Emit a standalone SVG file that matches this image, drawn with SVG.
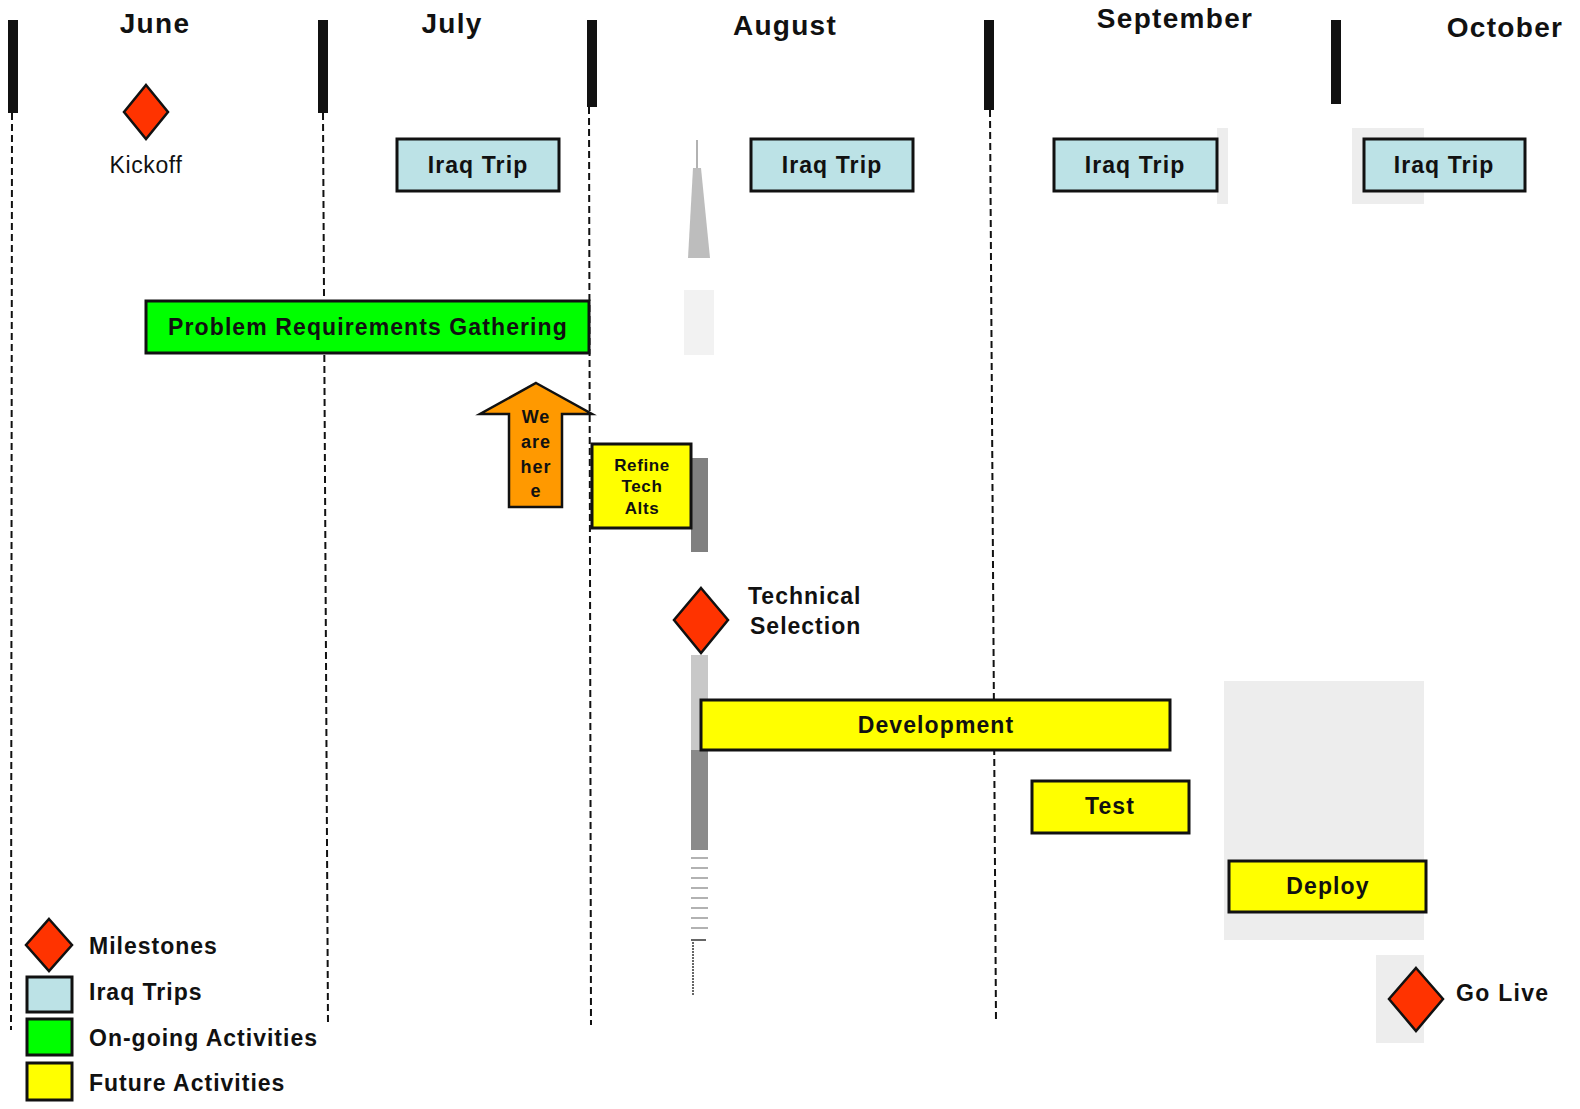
<svg xmlns="http://www.w3.org/2000/svg" width="1580" height="1109" viewBox="0 0 1580 1109">
<style>
text{font-family:"Liberation Sans",Arial,sans-serif;fill:#111}
.month{font-size:28px;font-weight:bold;text-anchor:middle;letter-spacing:1.3px}
.lbl{font-size:23px;font-weight:bold;text-anchor:middle;dominant-baseline:central;letter-spacing:1.1px}
.leg{font-size:23px;font-weight:bold;dominant-baseline:central;letter-spacing:1px}
.bar{fill:#111}
.dash{stroke:#111;stroke-width:2;stroke-dasharray:7,4;fill:none}
.box{stroke:#111;stroke-width:3}
.trip{fill:#BCE2E6}
.fut{fill:#FFFF00}
.ong{fill:#00FF00}
.ms{fill:#FF3300;stroke:#111;stroke-width:2.5}
.ghost{fill:#EDEDED}
</style>
<rect width="1580" height="1109" fill="#fff"/>
<g id="ghosts">
<rect class="ghost" x="1217" y="128" width="11" height="76"/>
<rect class="ghost" x="1352" y="128" width="72" height="76"/>
<rect class="ghost" x="1224" y="681" width="200" height="259"/>
<rect class="ghost" x="1376" y="955" width="48" height="88"/>
</g>
<g id="timeline">
<rect class="bar" x="8" y="20" width="10" height="93"/>
<rect class="bar" x="318" y="20" width="10" height="93"/>
<rect class="bar" x="587" y="20" width="10" height="87"/>
<rect class="bar" x="984" y="20" width="10" height="90"/>
<rect class="bar" x="1331" y="20" width="10" height="84"/>
<text class="month" x="155" y="33">June</text>
<text class="month" x="452" y="33">July</text>
<text class="month" x="785" y="35">August</text>
<text class="month" x="1175" y="28">September</text>
<text class="month" x="1505" y="37">October</text>
</g>
<g id="connectors">
<line class="dash" x1="12" y1="113" x2="11" y2="1030"/>
<line class="dash" x1="323" y1="113" x2="328" y2="1025"/>
<line class="dash" x1="589" y1="107" x2="591" y2="1025"/>
<line class="dash" x1="990" y1="110" x2="996" y2="1022"/>
</g>
<g id="decor">
<line x1="697" y1="140" x2="697" y2="170" stroke="#999" stroke-width="1.5"/>
<polygon points="693,168 701,168 710,258 688,258" fill="#BDBDBD"/>
<rect x="684" y="290" width="30" height="65" fill="#F2F2F2"/>
<rect x="691" y="458" width="17" height="94" fill="#808080"/>
<rect x="691" y="655" width="17" height="95" fill="#C8C8C8"/>
<rect x="691" y="750" width="17" height="100" fill="#8A8A8A"/>
<g stroke="#999" stroke-width="1.5">
<line x1="691" y1="858" x2="708" y2="858"/><line x1="691" y1="868" x2="708" y2="868"/>
<line x1="691" y1="878" x2="708" y2="878"/><line x1="691" y1="888" x2="708" y2="888"/>
<line x1="691" y1="898" x2="708" y2="898"/><line x1="691" y1="908" x2="708" y2="908"/>
<line x1="691" y1="918" x2="708" y2="918"/><line x1="691" y1="928" x2="708" y2="928"/>
</g>
<line x1="691" y1="940" x2="706" y2="940" stroke="#333" stroke-width="1.5"/>
<line x1="693" y1="942" x2="693" y2="996" stroke="#666" stroke-width="2" stroke-dasharray="2,1"/>
</g>
<g id="kickoff">
<polygon class="ms" points="146,85 168,112 146,139 124,112"/>
<text x="146" y="165" font-size="23" letter-spacing="0.6" text-anchor="middle" dominant-baseline="central">Kickoff</text>
</g>
<g id="trip1"><rect class="box trip" x="397" y="139" width="162" height="52"/><text class="lbl" x="478" y="165">Iraq Trip</text></g>
<g id="trip2"><rect class="box trip" x="751" y="139" width="162" height="52"/><text class="lbl" x="832" y="165">Iraq Trip</text></g>
<g id="trip3"><rect class="box trip" x="1054" y="139" width="163" height="52"/><text class="lbl" x="1135" y="165">Iraq Trip</text></g>
<g id="trip4"><rect class="box trip" x="1364" y="139" width="161" height="52"/><text class="lbl" x="1444" y="165">Iraq Trip</text></g>
<g id="prg"><rect class="box ong" x="146" y="301" width="443" height="52"/><text class="lbl" x="368" y="327" font-size="22" letter-spacing="1px">Problem Requirements Gathering</text></g>
<g id="wearehere">
<polygon points="536,383 592,414 562,414 562,507 509,507 509,414 480,414" fill="#FF9900" stroke="#111" stroke-width="2.5"/>
<g font-size="18" font-weight="bold" text-anchor="middle" letter-spacing="1">
<text x="536" y="423">We</text><text x="536" y="448">are</text><text x="536" y="473">her</text><text x="536" y="497">e</text>
</g>
</g>
<g id="refine">
<rect class="box fut" x="592" y="444" width="99" height="84"/>
<g font-size="17" font-weight="bold" text-anchor="middle" letter-spacing="0.6">
<text x="642" y="471">Refine</text><text x="642" y="492">Tech</text><text x="642" y="514">Alts</text>
</g>
</g>
<g id="techsel">
<polygon class="ms" points="701,588 728,620 701,653 674,620"/>
<text x="748" y="596" font-size="23" font-weight="bold" letter-spacing="1" dominant-baseline="central">Technical</text>
<text x="750" y="626" font-size="23" font-weight="bold" letter-spacing="1" dominant-baseline="central">Selection</text>
</g>
<g id="dev"><rect class="box fut" x="701" y="700" width="469" height="50"/><text class="lbl" x="936" y="725" font-size="22">Development</text></g>
<g id="test"><rect class="box fut" x="1032" y="781" width="157" height="52"/><text class="lbl" x="1110" y="806" font-size="23">Test</text></g>
<g id="deploy"><rect class="box fut" x="1229" y="861" width="197" height="51"/><text class="lbl" x="1328" y="886" font-size="23">Deploy</text></g>
<g id="golive">
<polygon class="ms" points="1416,968 1443,999 1416,1031 1389,999"/>
<text x="1456" y="993" font-size="23" font-weight="bold" letter-spacing="1.3" dominant-baseline="central">Go Live</text>
</g>
<g id="legend">
<polygon class="ms" points="49,919 72,945 49,971 26,945"/>
<rect class="box trip" x="27" y="977" width="45" height="35"/>
<rect class="box ong" x="27" y="1019" width="45" height="36"/>
<rect class="box fut" x="27" y="1063" width="45" height="37"/>
<text class="leg" x="89" y="946">Milestones</text>
<text class="leg" x="89" y="992">Iraq Trips</text>
<text class="leg" x="89" y="1038">On-going Activities</text>
<text class="leg" x="89" y="1083">Future Activities</text>
</g>
</svg>
